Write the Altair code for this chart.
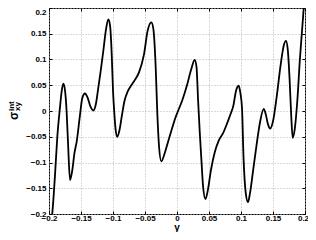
import altair as alt
import pandas as pd

gamma = [-0.1965, -0.1950, -0.1906, -0.1870, -0.1830, -0.1800, -0.1776, -0.1750, -0.1725, -0.1700,
         -0.1672, -0.1640, -0.1600, -0.1568, -0.1516, -0.1480, -0.1438, -0.1400, -0.1350, -0.1307,
         -0.1270, -0.1230, -0.1190, -0.1151, -0.1110, -0.1073, -0.1045, -0.1020, -0.1000, -0.0980,
         -0.0960, -0.0933, -0.0900, -0.0860, -0.0820, -0.0770, -0.0724, -0.0660, -0.0594, -0.0516,
         -0.0460, -0.0401, -0.0370, -0.0333, -0.0308, -0.0280, -0.0245, -0.0200, -0.0140, -0.0080,
         -0.0030, 0.0010, 0.0080, 0.0156, 0.0220, 0.0277, 0.0305, 0.0330, 0.0355, 0.0380,
         0.0410, 0.0445, 0.0480, 0.0530, 0.0590, 0.0650, 0.0720, 0.0780, 0.0840, 0.0880,
         0.0920, 0.0964, 0.0990, 0.1016, 0.1040, 0.1075, 0.1109, 0.1140, 0.1190, 0.1250,
         0.1300, 0.1355, 0.1390, 0.1420, 0.1458, 0.1500, 0.1560, 0.1620, 0.1670, 0.1703,
         0.1730, 0.1760, 0.1785, 0.1808, 0.1840, 0.1880, 0.1920, 0.1950, 0.1980, 0.2000]
sigma = [-0.215, -0.200, -0.124, -0.050, 0.005, 0.040, 0.053, 0.040, 0.000, -0.070,
         -0.134, -0.118, -0.080, -0.060, -0.008, 0.025, 0.034, 0.027, 0.008, 0.001,
         0.012, 0.045, 0.080, 0.117, 0.158, 0.178, 0.165, 0.110, 0.040, -0.003,
         -0.035, -0.050, -0.038, -0.008, 0.020, 0.038, 0.048, 0.060, 0.075, 0.110,
         0.155, 0.172, 0.160, 0.085, -0.003, -0.070, -0.098, -0.085, -0.060, -0.035,
         -0.015, -0.002, 0.020, 0.050, 0.080, 0.099, 0.085, 0.020, -0.040, -0.092,
         -0.150, -0.171, -0.155, -0.115, -0.080, -0.058, -0.043, -0.025, -0.005, 0.010,
         0.038, 0.049, 0.035, 0.005, -0.092, -0.160, -0.177, -0.160, -0.115, -0.060,
         -0.020, 0.004, -0.008, -0.025, -0.034, -0.020, 0.030, 0.090, 0.128, 0.136,
         0.120, 0.060, -0.010, -0.052, -0.035, 0.020, 0.100, 0.150, 0.200, 0.235]
ticks = [-0.2, -0.15, -0.1, -0.05, 0, 0.05, 0.1, 0.15, 0.2]

df = pd.DataFrame({"gamma": gamma, "sigma": sigma})

W, H = 256, 206
FONT = "Liberation Sans"

xscale = alt.Scale(domain=[-0.2, 0.2], nice=False, zero=False)
yscale = alt.Scale(domain=[-0.2, 0.2], nice=False, zero=False)

common = dict(values=ticks, offset=-3, tickSize=3, tickColor="black", tickWidth=1,
              domain=False, labelOverlap=False, labelFlush=False)
lab = dict(format="~g", labelFont=FONT, labelFontSize=8, labelFontWeight="bold",
           labelColor="black")
grid_kw = dict(grid=True, gridColor="#b4b4b4", gridDash=[1, 2], gridWidth=1)

main = alt.Chart(df).mark_line(color="black", strokeWidth=1.8,
                               interpolate="monotone", clip=True).encode(
    x=alt.X("gamma:Q", scale=xscale,
            axis=alt.Axis(orient="bottom", labelPadding=0.5, title=None,
                          labelOffset={"condition": {"test": "datum.value > 0.19",
                                                     "value": -2},
                                       "value": 0},
                          **common, **lab, **grid_kw)),
    y=alt.Y("sigma:Q", scale=yscale,
            axis=alt.Axis(orient="left", labelPadding=3, title=None,
                          labelBaseline={"condition": {"test": "datum.value > 0.19",
                                                       "value": "top"},
                                         "value": "middle"},
                          **common, **lab, **grid_kw)),
)

ticks_layer = alt.Chart(df).mark_line(opacity=0).encode(
    x=alt.X("gamma:Q", scale=xscale,
            axis=alt.Axis(orient="top", labels=False, grid=False, title=None, **common)),
    y=alt.Y("sigma:Q", scale=yscale,
            axis=alt.Axis(orient="right", labels=False, grid=False, title=None, **common)),
)

def label(txt, size, x, y, angle=270):
    return alt.Chart(pd.DataFrame({"t": [txt]})).mark_text(
        angle=angle, align="left" if angle else "center", baseline="alphabetic",
        font=FONT, fontSize=size, fontWeight="bold", color="black"
    ).encode(text="t:N", x=alt.value(x), y=alt.value(y))

sig = label("σ", 12, -31, 112)
sup = label("int", 8, -35, 103)
sub = label("xy", 8, -29.5, 103)
xtitle = label("γ", 10, W / 2, 222.5, angle=0)

chart = alt.layer(main, ticks_layer, sig, sup, sub, xtitle).resolve_scale(
    x="independent", y="independent"
).resolve_axis(
    x="independent", y="independent"
).properties(
    width=W, height=H,
    padding={"left": 41, "top": 0, "right": 3, "bottom": 18},
    autosize=alt.AutoSizeParams(type="none"),
).configure_view(stroke="black", strokeWidth=1)

chart.save("out.html", embed_options={"renderer": "svg", "actions": False})
